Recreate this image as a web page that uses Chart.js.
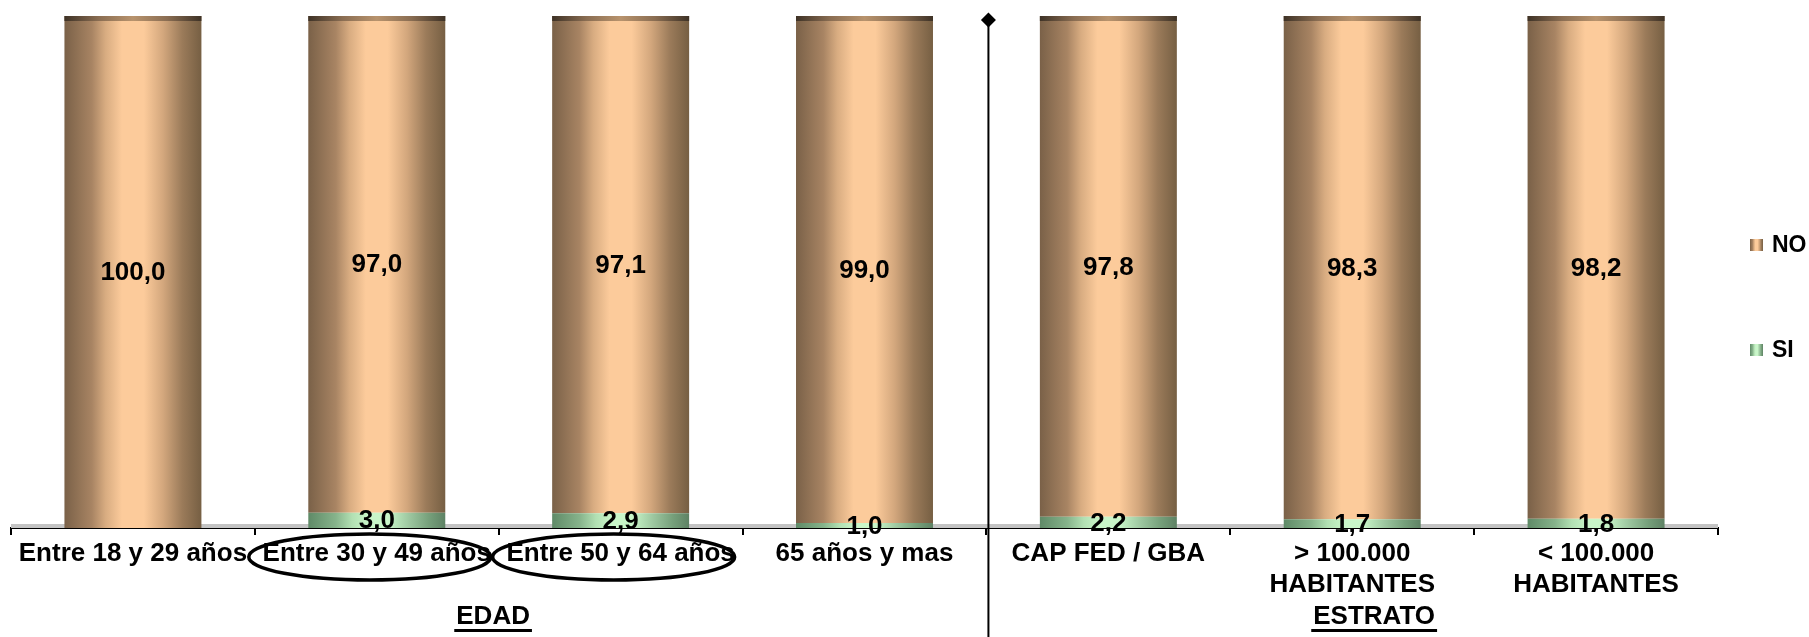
<!DOCTYPE html>
<html>
<head>
<meta charset="utf-8">
<script src="https://cdn.jsdelivr.net/npm/chart.js@4/dist/chart.umd.min.js"></script>
<style>
  html, body { margin: 0; padding: 0; background: #fff; overflow: hidden; }
  #wrap { width: 1809px; height: 637px; position: relative; }
</style>
</head>
<body>
<div id="wrap"><canvas id="c" width="1809" height="637"></canvas></div>
<script>
// Categories (two groups: age bands, then locality strata)
const categories = [
  "Entre 18 y 29 años",
  "Entre 30 y 49 años",
  "Entre 50 y 64 años",
  "65 años y mas",
  "CAP FED / GBA",
  ["> 100.000", "HABITANTES"],
  ["< 100.000", "HABITANTES"]
];
// Percentages per answer
const siValues = [0, 3.0, 2.9, 1.0, 2.2, 1.7, 1.8];
const noValues = [100.0, 97.0, 97.1, 99.0, 97.8, 98.3, 98.2];
const seriesNames = ["SI", "NO"];
const groupTitles = ["EDAD", "ESTRATO"];
const circledCategories = [1, 2];

const FONT = "'Liberation Sans', Arial, Helvetica, sans-serif";
const BAR_PCT = 0.5617;

// Cylinder-like shading across each bar
const noStops = [
  [0, '#7a6148'], [0.2, '#a88463'], [0.3, '#d8ac81'], [0.42, '#fccb9b'],
  [0.58, '#fccb9b'], [0.72, '#d3a77d'], [0.86, '#9b7b5a'], [1, '#765f43']
];
const siStops = [
  [0, '#5f8a67'], [0.2, '#86b38b'], [0.32, '#b2e0b3'], [0.44, '#c9f6c9'],
  [0.58, '#c9f6c9'], [0.74, '#9cc69f'], [0.88, '#76a07b'], [1, '#5e8264']
];
const capStops = [
  [0, '#3e3226'], [0.25, '#8a6d52'], [0.5, '#b8936d'], [0.75, '#8a6d52'], [1, '#3e3226']
];

function makeGradient(ctx, x0, x1, stops) {
  const g = ctx.createLinearGradient(x0, 0, x1, 0);
  stops.forEach(([o, c]) => g.addColorStop(o, c));
  return g;
}

function barFill(stops) {
  return (c) => {
    const chart = c.chart;
    const xs = chart.scales && chart.scales.x;
    if (!xs || !chart.chartArea || c.dataIndex === undefined) return stops[3][1];
    const half = xs.width / categories.length * BAR_PCT / 2;
    const cx = xs.getPixelForValue(c.dataIndex);
    return makeGradient(chart.ctx, cx - half, cx + half, stops);
  };
}

const fmt = v => v.toFixed(1).replace('.', ',');

const decorations = {
  id: 'decorations',
  beforeDatasetsDraw(chart) {
    // light grey floor under the bars
    const { ctx, chartArea } = chart;
    ctx.save();
    ctx.fillStyle = '#c4c4c4';
    ctx.fillRect(chartArea.left, chartArea.bottom - 4, chartArea.right - chartArea.left, 4);
    ctx.restore();
  },
  afterDatasetsDraw(chart) {
    // darker top rim on every full bar
    const { ctx } = chart;
    const meta = chart.getDatasetMeta(1);
    ctx.save();
    meta.data.forEach(el => {
      const half = el.width / 2;
      ctx.fillStyle = makeGradient(ctx, el.x - half, el.x + half, capStops);
      ctx.fillRect(el.x - half, el.y, el.width, 5);
    });
    ctx.restore();
  },
  afterDraw(chart) {
    const { ctx, chartArea } = chart;
    const xs = chart.scales.x;
    ctx.save();

    // value labels in the middle of each segment
    ctx.fillStyle = '#000';
    ctx.font = `bold 26px ${FONT}`;
    ctx.textAlign = 'center';
    ctx.textBaseline = 'middle';
    chart.data.datasets.forEach((ds, di) => {
      chart.getDatasetMeta(di).data.forEach((el, i) => {
        const v = ds.data[i];
        if (!v) return;
        ctx.fillText(fmt(v), el.x, (el.y + el.base) / 2 + 1);
      });
    });

    // divider between the two groups, with a diamond head
    const sepX = (xs.getPixelForValue(3) + xs.getPixelForValue(4)) / 2 + 2;
    ctx.strokeStyle = '#000';
    ctx.lineWidth = 2;
    ctx.beginPath();
    ctx.moveTo(sepX, 20);
    ctx.lineTo(sepX, chart.height);
    ctx.stroke();
    ctx.beginPath();
    ctx.moveTo(sepX, 12.5);
    ctx.lineTo(sepX + 7.5, 20);
    ctx.lineTo(sepX, 27.5);
    ctx.lineTo(sepX - 7.5, 20);
    ctx.closePath();
    ctx.fill();

    // ellipses around highlighted category labels
    ctx.lineWidth = 3.5;
    circledCategories.forEach(i => {
      const cx = xs.getPixelForValue(i) - 7;
      ctx.beginPath();
      ctx.ellipse(cx, 557, 121, 23, 0, 0, Math.PI * 2);
      ctx.stroke();
    });

    // underlined group titles
    ctx.font = `bold 26px ${FONT}`;
    ctx.textBaseline = 'alphabetic';
    const titlePos = [1.477, 5.09];
    groupTitles.forEach((t, k) => {
      const x = xs.getPixelForValue(titlePos[k]);
      const w = ctx.measureText(t).width;
      ctx.fillText(t, x, 624);
      ctx.fillRect(x - w / 2 - 2, 629, w + 4, 3);
    });

    // legend on the right: NO above SI
    ctx.textAlign = 'left';
    ctx.textBaseline = 'middle';
    ctx.font = `bold 23px ${FONT}`;
    const legend = [[seriesNames[1], noStops, 245], [seriesNames[0], siStops, 350]];
    legend.forEach(([name, stops, y]) => {
      const sx = chartArea.right + 32;
      ctx.fillStyle = makeGradient(ctx, sx, sx + 13, stops);
      ctx.fillRect(sx, y - 6, 13, 12);
      ctx.fillStyle = '#000';
      ctx.fillText(name, sx + 22, y + 1);
    });

    ctx.restore();
  }
};

new Chart(document.getElementById('c'), {
  type: 'bar',
  data: {
    labels: categories,
    datasets: [
      { label: seriesNames[0], data: siValues, backgroundColor: barFill(siStops), borderWidth: 0,
        barPercentage: BAR_PCT, categoryPercentage: 1 },
      { label: seriesNames[1], data: noValues, backgroundColor: barFill(noStops), borderWidth: 0,
        barPercentage: BAR_PCT, categoryPercentage: 1 }
    ]
  },
  options: {
    responsive: false,
    devicePixelRatio: 1,
    animation: false,
    events: [],
    layout: { padding: { left: 11, right: 91, top: 16, bottom: 0 } },
    plugins: { legend: { display: false }, tooltip: { enabled: false } },
    scales: {
      x: {
        stacked: true,
        offset: true,
        z: 1,
        grid: { display: true, offset: true, drawOnChartArea: false, drawTicks: true,
                tickLength: 7, color: '#000', lineWidth: 2 },
        border: { display: true, color: '#000', width: 2 },
        ticks: { color: '#000', font: { family: FONT, size: 26, weight: 'bold', lineHeight: 1.2 },
                 padding: 3, autoSkip: false, maxRotation: 0, minRotation: 0 },
        afterFit(s) { s.height = 109; }
      },
      y: { stacked: true, display: false, min: 0, max: 100 }
    }
  },
  plugins: [decorations]
});
</script>
</body>
</html>
